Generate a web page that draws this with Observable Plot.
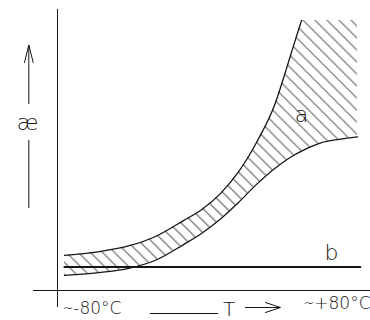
<!DOCTYPE html>
<html><head><meta charset="utf-8">
<script src="https://cdn.jsdelivr.net/npm/d3@7"></script>
<script src="https://cdn.jsdelivr.net/npm/@observablehq/plot@0.6"></script>
<style>body{margin:0;background:#fff} svg{display:block}</style>
</head><body><div id="chart"></div>
<script>
// Temperature grid (°C) and the two boundaries of the hatched band "a"
const temps  = [-80, -60, -45, -30, -15, -5, 5, 15, 25, 35, 40, 45, 50, 55, 60, 70, 80];
const upperA = [13.0, 14.5, 16.5, 20.1, 25.9, 30.0, 35.8, 43.9, 55.0, 69.2, 79.5, 90.5, 101.2, 112, 123, 145, 166];
const lowerA = [5.6, 6.7, 8.2, 11.3, 17.0, 21.2, 26.4, 32.6, 39.4, 45.3, 47.8, 50.0, 51.8, 53.4, 54.7, 56.0, 56.9];
// Curve "b": flat line
const tempsB = [-80, 81.5];
const levelB = [8.7, 8.7];
// Axis texts
const tickTemps = [-80, 80];
const tickLabels = ["∼-80°C", "∼+80°C"];
const curveNames = ["a", "b"];
const xTitle = "T";
const yTitle = "æ";

const bandData = temps.map((t, i) => ({T: t, hi: upperA[i], lo: lowerA[i]}));
const bData = tempsB.map((t, i) => ({T: t, v: levelB[i]}));

const W = 370, H = 320;
const mL = 64, mR = 13, mT = 20, mB = 30;
const xDom = [-80, 80], yDom = [0, 100];
// helpers to place annotations given in pixel positions
const X = d3.scaleLinear(xDom, [mL, W - mR]);
const Y = d3.scaleLinear(yDom, [H - mB, mT]);
const px = p => X.invert(p), py = p => Y.invert(p);

const ink = "#161616";
const font = "'DejaVu Sans', Lato, sans-serif";
const crv = "monotone-x";

const plot = Plot.plot({
  width: W, height: H,
  marginLeft: mL, marginRight: mR, marginTop: mT, marginBottom: mB,
  x: {domain: xDom, axis: null},
  y: {domain: yDom, axis: null},
  style: {fontFamily: font, fontWeight: 300, background: "#fff", overflow: "visible"},
  marks: [
    Plot.areaY(bandData, {x: "T", y1: "lo", y2: "hi", fill: "url(#hatch)", curve: crv, clip: true}),
    Plot.line(bandData, {x: "T", y: "hi", stroke: ink, strokeWidth: 1.3, curve: crv, clip: true}),
    Plot.line(bandData, {x: "T", y: "lo", stroke: ink, strokeWidth: 1.3, curve: crv}),
    Plot.line(bData, {x: "T", y: "v", stroke: ink, strokeWidth: 2.2}),
    // axes lines
    Plot.ruleY([0], {x1: px(33), x2: px(370), stroke: ink, strokeWidth: 1}),
    Plot.ruleX([px(57)], {y1: py(9), y2: py(307), stroke: ink, strokeWidth: 1}),
    // y-axis title with arrow
    Plot.ruleX([px(28.3)], {y1: py(104), y2: py(45), stroke: ink, strokeWidth: 1}),
    Plot.line([[24, 62], [28.3, 44.5], [32.7, 62]], {x: d => px(d[0]), y: d => py(d[1]), stroke: ink, strokeWidth: 1}),
    Plot.ruleX([px(28.3)], {y1: py(140), y2: py(208), stroke: ink, strokeWidth: 1}),
    Plot.text([yTitle], {x: px(27), y: py(122), fontSize: 22, fill: ink, lineAnchor: "middle"}),
    // x-axis title with arrow
    Plot.ruleY([py(313)], {x1: px(150), x2: px(218), stroke: ink, strokeWidth: 1}),
    Plot.text([xTitle], {x: px(228.5), y: py(309.5), fontSize: 20, fill: ink, lineAnchor: "middle"}),
    Plot.ruleY([py(307)], {x1: px(245), x2: px(280), stroke: ink, strokeWidth: 1}),
    Plot.line([[265, 302], [280, 307], [265, 312]], {x: d => px(d[0]), y: d => py(d[1]), stroke: ink, strokeWidth: 1}),
    // tick labels
    Plot.text([0], {x: tickTemps[0], y: 0, text: () => tickLabels[0], textAnchor: "start", lineAnchor: "bottom", dx: -2, dy: 23, fontSize: 17, fill: ink}),
    Plot.text([1], {x: tickTemps[1], y: 0, text: () => tickLabels[1], textAnchor: "end", lineAnchor: "bottom", dx: 13, dy: 18, fontSize: 17, fill: ink}),
    // curve labels
    Plot.text([curveNames[0]], {x: px(301), y: py(114), fontSize: 22, fill: ink, lineAnchor: "middle"}),
    Plot.text([curveNames[1]], {x: px(331), y: py(252), fontSize: 22, fill: ink, lineAnchor: "middle"})
  ]
});

plot.insertAdjacentHTML("afterbegin",
  `<defs><pattern id="hatch" patternUnits="userSpaceOnUse" width="20" height="8.5" patternTransform="rotate(45)">
     <line x1="0" y1="4" x2="20" y2="4" stroke="#555" stroke-width="1"/>
   </pattern></defs>`);

document.getElementById("chart").appendChild(plot);
</script>
</body></html>
